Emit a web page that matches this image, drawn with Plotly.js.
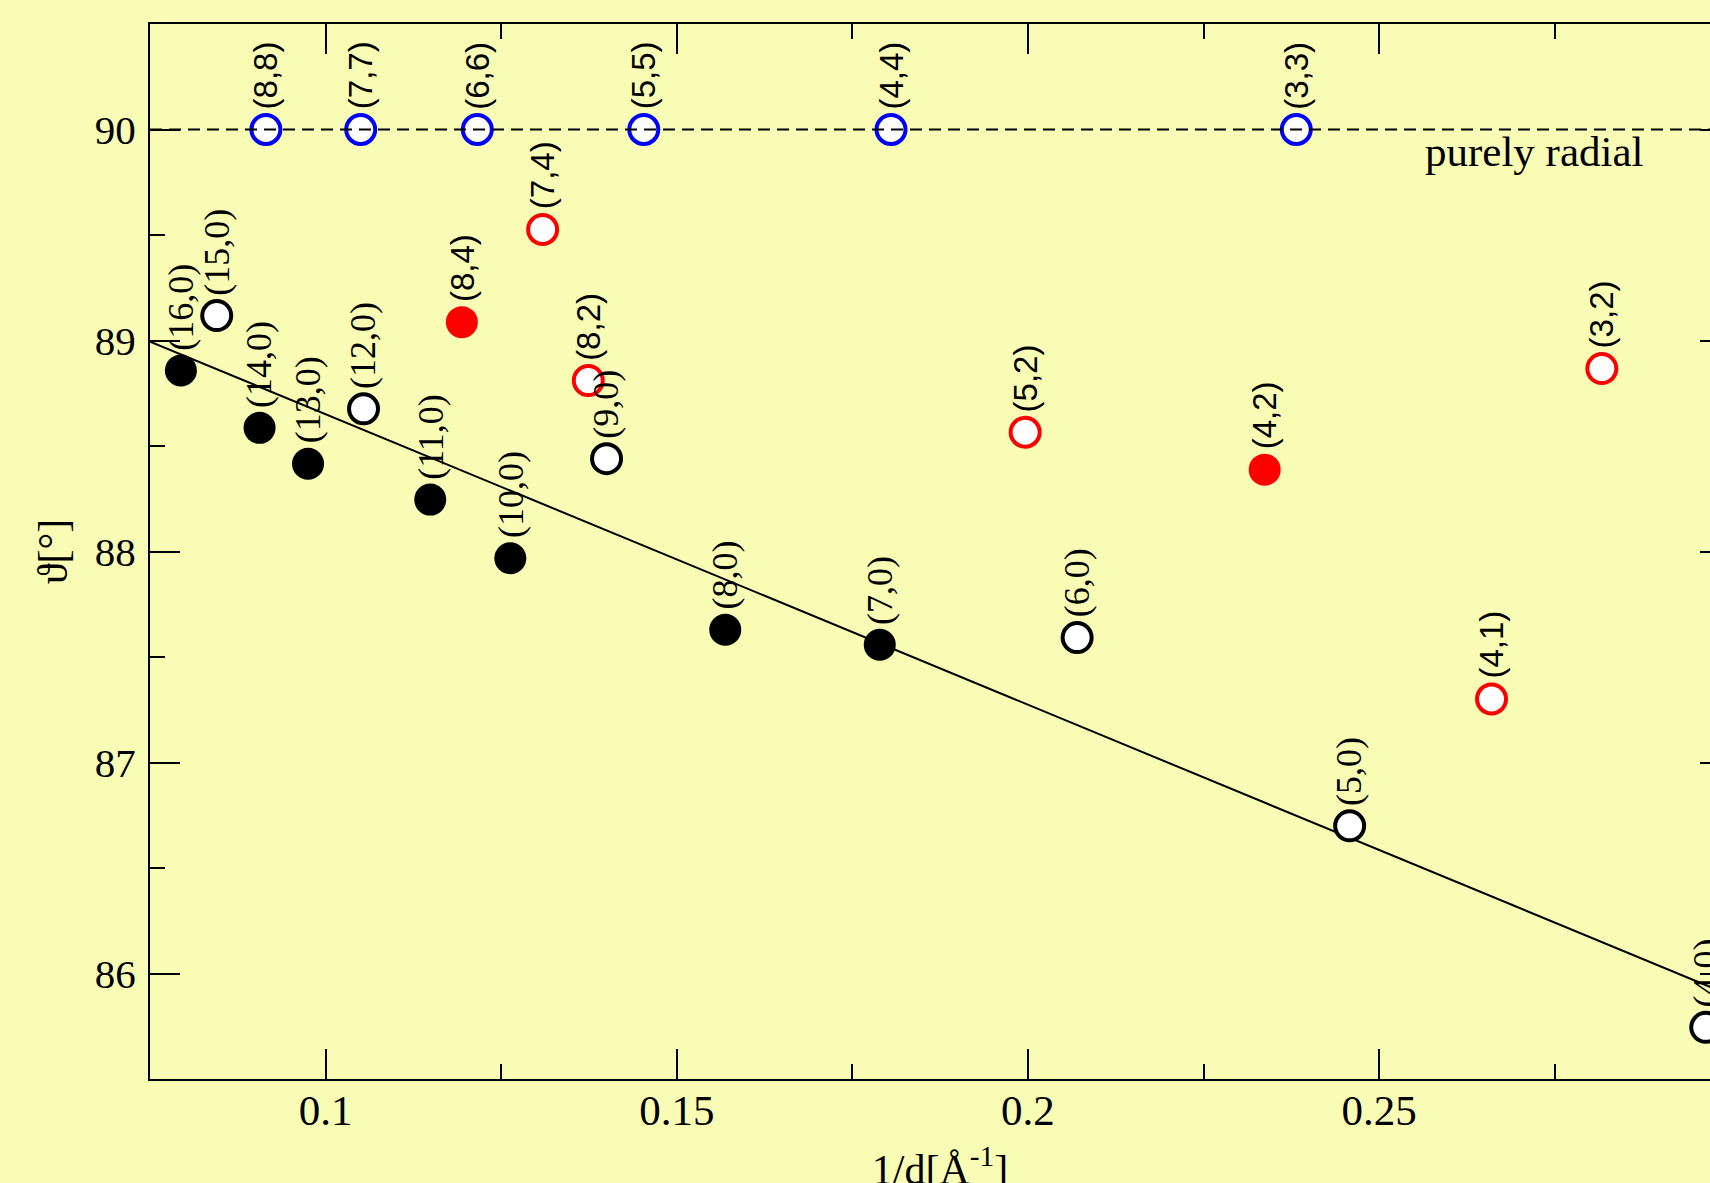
<!DOCTYPE html>
<html>
<head>
<meta charset="utf-8">
<script src="https://cdn.plot.ly/plotly-3.0.1.min.js"></script>
<style>
  html, body { margin: 0; padding: 0; overflow: hidden; width: 1710px; height: 1183px; background: #f8fcb4; }
  #chart { position: absolute; left: 0; top: 0; width: 1740px; height: 1200px; }
</style>
</head>
<body>
<div id="chart"></div>
<script>
// ---- data (1/d in 1/Angstrom, theta in degrees) ----
const armchairX = [0.0915, 0.1050, 0.1216, 0.1453, 0.1805, 0.2382];
const armchairY = [90, 90, 90, 90, 90, 90];
const armchairLabels = ['(8,8)', '(7,7)', '(6,6)', '(5,5)', '(4,4)', '(3,3)'];

const zigzagFilledX = [0.0794, 0.0906, 0.0975, 0.1149, 0.1263, 0.1569, 0.1789];
const zigzagFilledY = [88.858, 88.586, 88.416, 88.246, 87.968, 87.629, 87.558];
const zigzagFilledLabels = ['(16,0)', '(14,0)', '(13,0)', '(11,0)', '(10,0)', '(8,0)', '(7,0)'];

const zigzagOpenX = [0.0845, 0.1054, 0.1400, 0.2070, 0.2458, 0.2965];
const zigzagOpenY = [89.118, 88.676, 88.440, 87.592, 86.700, 85.745];
const zigzagOpenLabels = ['(15,0)', '(12,0)', '(9,0)', '(6,0)', '(5,0)', '(4,0)'];

const chiralOpenX = [0.1309, 0.1374, 0.1996, 0.2660, 0.2817];
const chiralOpenY = [89.526, 88.810, 88.565, 87.301, 88.867];
const chiralOpenLabels = ['(7,4)', '(8,2)', '(5,2)', '(4,1)', '(3,2)'];

const chiralFilledX = [0.1194, 0.2337];
const chiralFilledY = [89.087, 88.388];
const chiralFilledLabels = ['(8,4)', '(4,2)'];

const fitX = [0.075, 0.3];
const fitY = [88.995, 85.897];

const radialX = [0.075, 0.3];
const radialY = [90, 90];

const xTitle = '1/d[Å<sup>-1</sup>]';
const yTitle = 'ϑ[°]';
const radialText = 'purely radial';

// ---- styling ----
const SERIF = 'Liberation Serif, Times New Roman, serif';
const SANS = 'Liberation Sans, Arial, sans-serif';
const BG = '#f8fcb4';

function openMarker(color) {
  return { symbol: 'circle', size: 29, color: '#ffffff', line: { color: color, width: 4 } };
}
function filledMarker(color) {
  return { symbol: 'circle', size: 32, color: color, line: { width: 0 } };
}

const traces = [
  { x: fitX, y: fitY, mode: 'lines', line: { color: '#000', width: 2 }, hoverinfo: 'skip', showlegend: false },
  { x: zigzagFilledX, y: zigzagFilledY, mode: 'markers', marker: filledMarker('#000000'), showlegend: false },
  { x: zigzagOpenX, y: zigzagOpenY, mode: 'markers', marker: openMarker('#000000'), showlegend: false },
  { x: chiralOpenX, y: chiralOpenY, mode: 'markers', marker: openMarker('#ff0000'), showlegend: false },
  { x: chiralFilledX, y: chiralFilledY, mode: 'markers', marker: filledMarker('#ff0000'), showlegend: false },
  { x: armchairX, y: armchairY, mode: 'markers', marker: openMarker('#0000ff'), showlegend: false },
  { x: radialX, y: radialY, mode: 'lines', line: { color: '#000', width: 2, dash: '12px,7px' }, hoverinfo: 'skip', showlegend: false }
];

const annotations = [];
function addLabels(xs, ys, labels, family, size, shift) {
  for (let i = 0; i < xs.length; i++) {
    annotations.push({
      x: xs[i], y: ys[i], xref: 'x', yref: 'y', text: labels[i], showarrow: false,
      textangle: -90, xanchor: 'center', yanchor: 'bottom', yshift: shift,
      font: { family: family, size: size, color: '#000' }
    });
  }
}
addLabels(armchairX, armchairY, armchairLabels, SANS, 33, 18);
addLabels(chiralOpenX, chiralOpenY, chiralOpenLabels, SANS, 33, 18);
addLabels(chiralFilledX, chiralFilledY, chiralFilledLabels, SANS, 33, 18);
addLabels(zigzagFilledX, zigzagFilledY, zigzagFilledLabels, SERIF, 36, 18);
addLabels(zigzagOpenX, zigzagOpenY, zigzagOpenLabels, SERIF, 36, 18);

annotations.push({
  x: 0.2563, y: 89.896, xref: 'x', yref: 'y', text: radialText, showarrow: false,
  xanchor: 'left', yanchor: 'middle', font: { family: SERIF, size: 43, color: '#000' }
});

const layout = {
  width: 1740, height: 1200,
  margin: { l: 150, r: 10, t: 24, b: 121, pad: 0 },
  paper_bgcolor: BG, plot_bgcolor: BG,
  showlegend: false,
  font: { family: SERIF, color: '#000' },
  xaxis: {
    range: [0.075, 0.29995], tick0: 0, dtick: 0.05,
    showgrid: false, zeroline: false,
    showline: true, linecolor: '#000', linewidth: 2, mirror: 'ticks',
    ticks: 'inside', ticklen: 30, tickwidth: 2, tickcolor: '#000',
    ticklabelstandoff: -8,
    minor: { ticks: 'inside', ticklen: 15, tickwidth: 2, tickcolor: '#000', dtick: 0.025, tick0: 0, showgrid: false },
    tickfont: { family: SERIF, size: 43, color: '#000' },
    title: { text: xTitle, font: { family: SERIF, size: 42, color: '#000' }, standoff: 22 }
  },
  yaxis: {
    range: [85.5, 90.5], tick0: 0, dtick: 1,
    showgrid: false, zeroline: false,
    showline: true, linecolor: '#000', linewidth: 2, mirror: 'ticks',
    ticks: 'inside', ticklen: 30, tickwidth: 2, tickcolor: '#000',
    ticklabelstandoff: 4,
    minor: { ticks: 'inside', ticklen: 15, tickwidth: 2, tickcolor: '#000', dtick: 0.5, tick0: 0, showgrid: false },
    tickfont: { family: SERIF, size: 41, color: '#000' },
    title: { text: yTitle, font: { family: SERIF, size: 42, color: '#000' }, standoff: 14 }
  },
  annotations: annotations
};

Plotly.newPlot('chart', traces, layout, { displayModeBar: false, staticPlot: true });
</script>
</body>
</html>
